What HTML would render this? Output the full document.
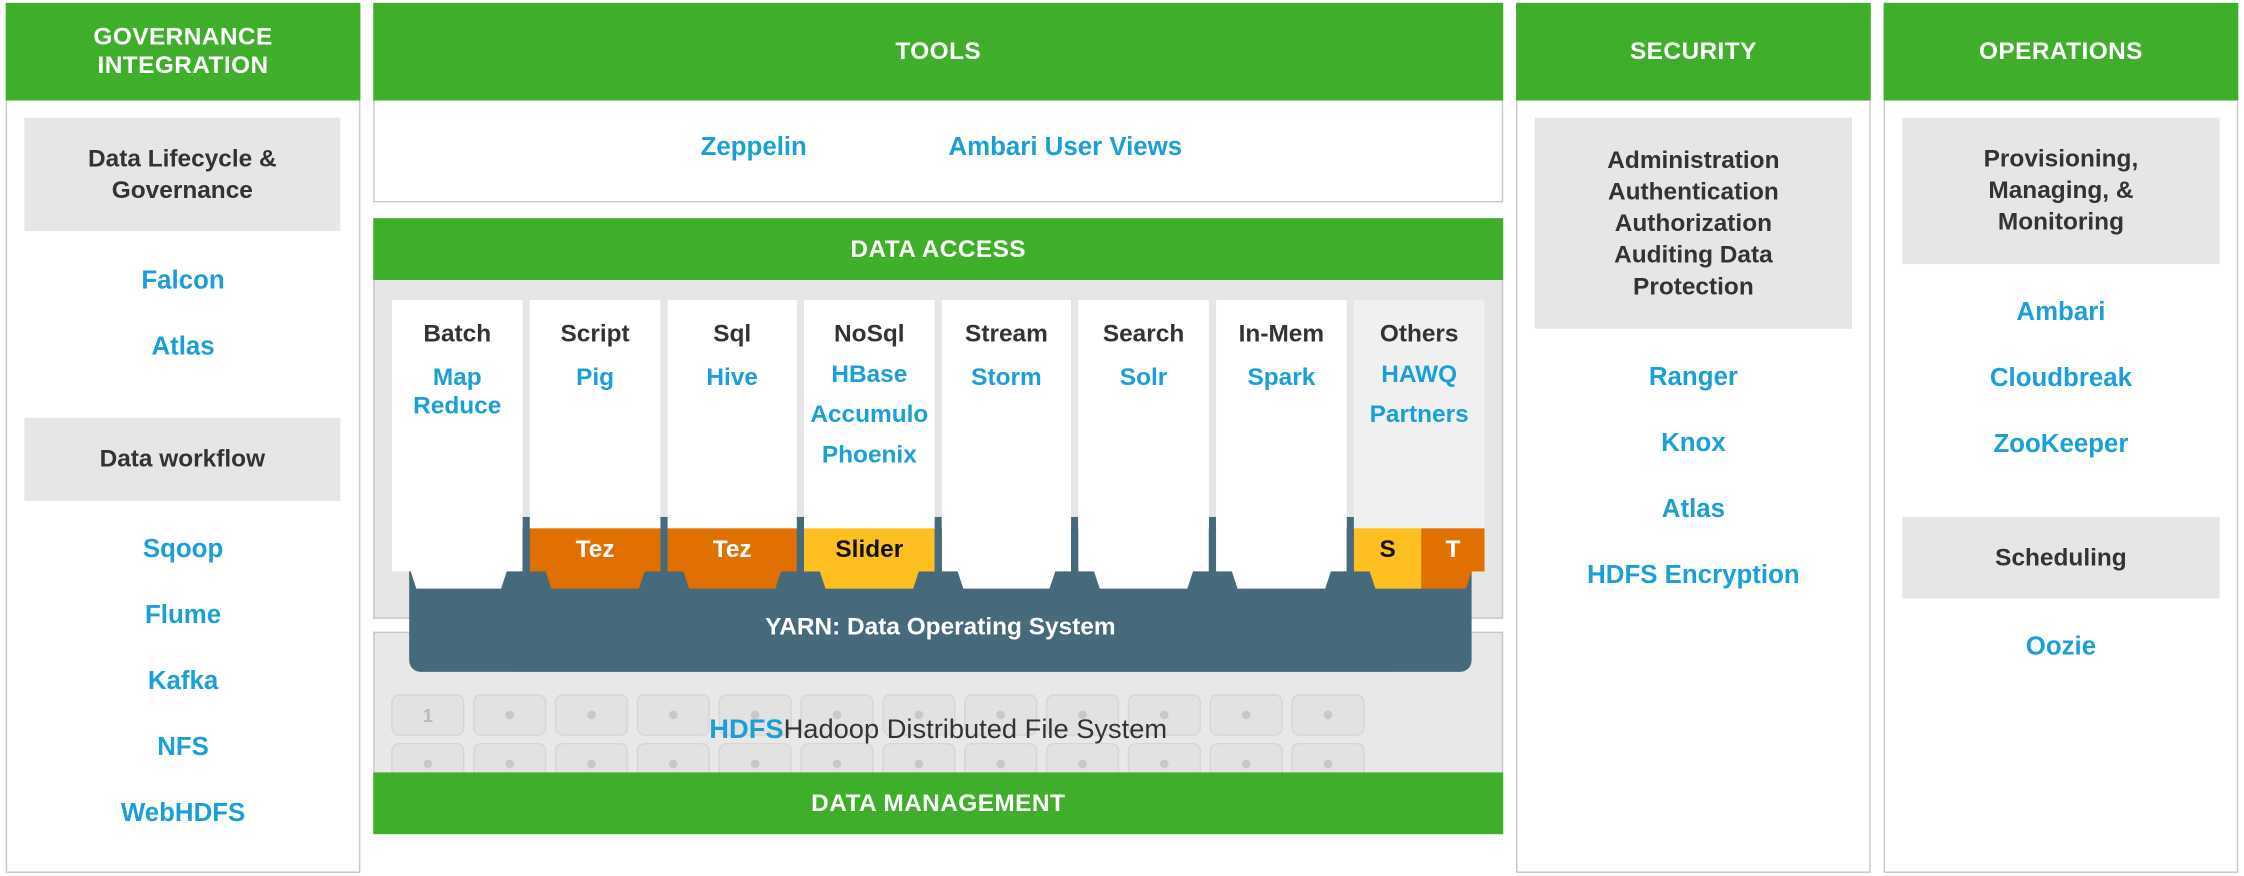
<!DOCTYPE html>
<html><head><meta charset="utf-8"><style>
html,body{margin:0;padding:0;background:#fff;overflow:hidden}
#w{width:2244px;height:876px;position:relative;overflow:hidden}
#c{position:absolute;left:0;top:0;width:1563px;height:610px;transform:scale(1.4357);transform-origin:0 0;font-family:"Liberation Sans",sans-serif;font-weight:bold}
.a{position:absolute;box-sizing:border-box}
.p{border:1.5px solid #c8c8c8;background:#fff}
.g{background:#3fae2a;color:#fff;text-align:center;font-size:17px;letter-spacing:.3px}
.gb{background:#e6e6e6;color:#333;text-align:center;font-size:17px;line-height:22px;display:flex;align-items:center;justify-content:center}
.b{color:#1a9fd6;font-size:18px;text-align:center;white-space:nowrap}
.col{background:#fff;text-align:center}
.col .h{color:#333;font-size:17px;margin-top:14px}
.col .l{color:#1a9fd6;font-size:17px;line-height:20px;margin-top:10px}
.chip{position:absolute;height:30px;top:368px;font-size:17px;text-align:center;line-height:30px}
</style></head><body><div id="w"><div id="c">

<!-- left column -->
<div class="a p" style="left:4px;top:2px;width:247px;height:606px"></div>
<div class="a g" style="left:4px;top:2px;width:247px;height:68px;padding-top:14px;line-height:20px">GOVERNANCE<br>INTEGRATION</div>
<div class="a gb" style="left:17px;top:82px;width:220px;height:79px">Data Lifecycle &amp;<br>Governance</div>
<div class="a b" style="left:4px;top:185px;width:247px">Falcon</div>
<div class="a b" style="left:4px;top:231px;width:247px">Atlas</div>
<div class="a gb" style="left:17px;top:291px;width:220px;height:58px">Data workflow</div>
<div class="a b" style="left:4px;top:372px;width:247px">Sqoop</div>
<div class="a b" style="left:4px;top:418px;width:247px">Flume</div>
<div class="a b" style="left:4px;top:464px;width:247px">Kafka</div>
<div class="a b" style="left:4px;top:510px;width:247px">NFS</div>
<div class="a b" style="left:4px;top:556px;width:247px">WebHDFS</div>

<!-- tools -->
<div class="a p" style="left:260px;top:2px;width:787px;height:139px"></div>
<div class="a g" style="left:260px;top:2px;width:787px;height:68px;line-height:68px">TOOLS</div>
<div class="a b" style="left:465px;top:92px;width:120px">Zeppelin</div>
<div class="a b" style="left:642px;top:92px;width:200px">Ambari User Views</div>

<!-- data access -->
<div class="a" style="left:260px;top:152px;width:787px;height:279px;background:#e6e6e6;border:1.5px solid #c8c8c8"></div>
<div class="a g" style="left:260px;top:152px;width:787px;height:43px;line-height:43px">DATA ACCESS</div>

<!-- HDFS -->
<div class="a" style="left:260px;top:440px;width:787px;height:141px;background:#e8e8e8;border:1.5px solid #c8c8c8"></div>
<svg class="a" style="left:260px;top:440px" width="787" height="141">
<g fill="#e2e2e2" stroke="#d6d6d6" stroke-width="1">
<rect x="13" y="44" width="50" height="28" rx="5"/><rect x="70" y="44" width="50" height="28" rx="5"/><rect x="127" y="44" width="50" height="28" rx="5"/><rect x="184" y="44" width="50" height="28" rx="5"/><rect x="241" y="44" width="50" height="28" rx="5"/><rect x="298" y="44" width="50" height="28" rx="5"/><rect x="355" y="44" width="50" height="28" rx="5"/><rect x="412" y="44" width="50" height="28" rx="5"/><rect x="469" y="44" width="50" height="28" rx="5"/><rect x="526" y="44" width="50" height="28" rx="5"/><rect x="583" y="44" width="50" height="28" rx="5"/><rect x="640" y="44" width="50" height="28" rx="5"/>
<rect x="13" y="78" width="50" height="28" rx="5"/><rect x="70" y="78" width="50" height="28" rx="5"/><rect x="127" y="78" width="50" height="28" rx="5"/><rect x="184" y="78" width="50" height="28" rx="5"/><rect x="241" y="78" width="50" height="28" rx="5"/><rect x="298" y="78" width="50" height="28" rx="5"/><rect x="355" y="78" width="50" height="28" rx="5"/><rect x="412" y="78" width="50" height="28" rx="5"/><rect x="469" y="78" width="50" height="28" rx="5"/><rect x="526" y="78" width="50" height="28" rx="5"/><rect x="583" y="78" width="50" height="28" rx="5"/><rect x="640" y="78" width="50" height="28" rx="5"/>
</g>
<g fill="#c8c8c8"><circle cx="95" cy="58" r="3"/><circle cx="152" cy="58" r="3"/><circle cx="209" cy="58" r="3"/><circle cx="266" cy="58" r="3"/><circle cx="323" cy="58" r="3"/><circle cx="380" cy="58" r="3"/><circle cx="437" cy="58" r="3"/><circle cx="494" cy="58" r="3"/><circle cx="551" cy="58" r="3"/><circle cx="608" cy="58" r="3"/><circle cx="665" cy="58" r="3"/>
<circle cx="38" cy="92" r="3"/><circle cx="95" cy="92" r="3"/><circle cx="152" cy="92" r="3"/><circle cx="209" cy="92" r="3"/><circle cx="266" cy="92" r="3"/><circle cx="323" cy="92" r="3"/><circle cx="380" cy="92" r="3"/><circle cx="437" cy="92" r="3"/><circle cx="494" cy="92" r="3"/><circle cx="551" cy="92" r="3"/><circle cx="608" cy="92" r="3"/><circle cx="665" cy="92" r="3"/></g>
<text x="38" y="63" font-family="Liberation Sans" font-size="13" fill="#bbb" text-anchor="middle">1</text>
</svg>
<div class="a" style="left:260px;top:498px;width:787px;text-align:center;font-size:19px;white-space:nowrap"><span style="color:#1a9fd6">HDFS</span><span style="color:#333;font-weight:normal">Hadoop Distributed File System</span></div>
<div class="a g" style="left:260px;top:538px;width:787px;height:43px;line-height:43px">DATA MANAGEMENT</div>

<!-- YARN -->
<svg class="a" style="left:260px;top:360px" width="787" height="110">
<rect x="25" y="8" width="740" height="100" rx="8" fill="#46697c"/>
<rect x="25" y="0" width="740" height="40" fill="#46697c"/>
<g>
<polygon points="13,0 104,0 104,38 93,38 89,50 30,50 26,38 13,38" fill="#fff"/>
<polygon points="109,8 200,8 200,38 189,38 185,50 124,50 120,38 109,38" fill="#e07000"/>
<polygon points="205,8 295,8 295,38 284,38 280,50 220,50 216,38 205,38" fill="#e07000"/>
<polygon points="300,8 391,8 391,38 380,38 376,50 315,50 311,38 300,38" fill="#fec020"/>
<polygon points="396,0 486,0 486,38 475,38 471,50 411,50 407,38 396,38" fill="#fff"/>
<polygon points="491,0 582,0 582,38 571,38 567,50 506,50 502,38 491,38" fill="#fff"/>
<polygon points="587,0 678,0 678,38 667,38 663,50 602,50 598,38 587,38" fill="#fff"/>
<polygon points="683,8 730,8 730,50 698,50 694,38 683,38" fill="#fec020"/>
<polygon points="730,8 774,8 774,38 765,38 761,50 730,50" fill="#e07000"/>
</g>
</svg>
<div class="a" style="left:285px;top:427px;width:740px;text-align:center;color:#fff;font-size:17px">YARN: Data Operating System</div>

<!-- columns -->
<div class="a col" style="left:273px;top:209px;width:91px;height:160px"><div class="h">Batch</div><div class="l">Map<br>Reduce</div></div>
<div class="a col" style="left:369px;top:209px;width:91px;height:160px"><div class="h">Script</div><div class="l">Pig</div></div>
<div class="a col" style="left:465px;top:209px;width:90px;height:160px"><div class="h">Sql</div><div class="l">Hive</div></div>
<div class="a col" style="left:560px;top:209px;width:91px;height:160px"><div class="h">NoSql</div><div class="l" style="line-height:28px;margin-top:4px">HBase<br>Accumulo<br>Phoenix</div></div>
<div class="a col" style="left:656px;top:209px;width:90px;height:160px"><div class="h">Stream</div><div class="l">Storm</div></div>
<div class="a col" style="left:751px;top:209px;width:91px;height:160px"><div class="h">Search</div><div class="l">Solr</div></div>
<div class="a col" style="left:847px;top:209px;width:91px;height:160px"><div class="h">In-Mem</div><div class="l">Spark</div></div>
<div class="a col" style="left:943px;top:209px;width:91px;height:160px;background:#f0f0f0"><div class="h">Others</div><div class="l" style="line-height:28px;margin-top:4px">HAWQ<br>Partners</div></div>
<div class="chip" style="left:369px;width:91px;background:#e07000;color:#fff">Tez</div>
<div class="chip" style="left:465px;width:90px;background:#e07000;color:#fff">Tez</div>
<div class="chip" style="left:560px;width:91px;background:#fec020;color:#111">Slider</div>
<div class="chip" style="left:943px;width:47px;background:#fec020;color:#111">S</div>
<div class="chip" style="left:990px;width:44px;background:#e07000;color:#fff">T</div>
<div class="a" style="left:364px;top:368px;width:5px;height:32px;background:#46697c"></div>
<div class="a" style="left:460px;top:368px;width:5px;height:32px;background:#46697c"></div>
<div class="a" style="left:555px;top:368px;width:5px;height:32px;background:#46697c"></div>
<div class="a" style="left:651px;top:368px;width:5px;height:32px;background:#46697c"></div>
<div class="a" style="left:746px;top:368px;width:5px;height:32px;background:#46697c"></div>
<div class="a" style="left:842px;top:368px;width:5px;height:32px;background:#46697c"></div>
<div class="a" style="left:938px;top:368px;width:5px;height:32px;background:#46697c"></div>

<!-- security -->
<div class="a p" style="left:1056px;top:2px;width:247px;height:606px"></div>
<div class="a g" style="left:1056px;top:2px;width:247px;height:68px;line-height:68px">SECURITY</div>
<div class="a gb" style="left:1069px;top:82px;width:221px;height:147px">Administration<br>Authentication<br>Authorization<br>Auditing Data<br>Protection</div>
<div class="a b" style="left:1056px;top:252px;width:247px">Ranger</div>
<div class="a b" style="left:1056px;top:298px;width:247px">Knox</div>
<div class="a b" style="left:1056px;top:344px;width:247px">Atlas</div>
<div class="a b" style="left:1056px;top:390px;width:247px">HDFS Encryption</div>

<!-- operations -->
<div class="a p" style="left:1312px;top:2px;width:247px;height:606px"></div>
<div class="a g" style="left:1312px;top:2px;width:247px;height:68px;line-height:68px">OPERATIONS</div>
<div class="a gb" style="left:1325px;top:82px;width:221px;height:102px">Provisioning,<br>Managing, &amp;<br>Monitoring</div>
<div class="a b" style="left:1312px;top:207px;width:247px">Ambari</div>
<div class="a b" style="left:1312px;top:253px;width:247px">Cloudbreak</div>
<div class="a b" style="left:1312px;top:299px;width:247px">ZooKeeper</div>
<div class="a gb" style="left:1325px;top:360px;width:221px;height:57px">Scheduling</div>
<div class="a b" style="left:1312px;top:440px;width:247px">Oozie</div>

</div></div></body></html>
